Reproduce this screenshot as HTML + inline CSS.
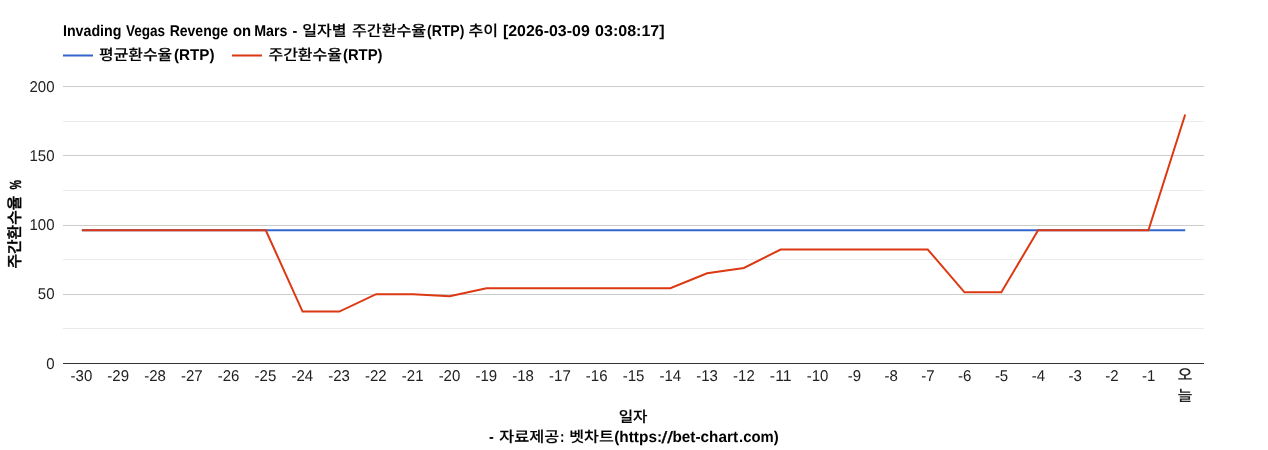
<!DOCTYPE html>
<html lang="ko"><head><meta charset="utf-8"><title>Invading Vegas Revenge on Mars - RTP</title>
<style>
html,body{margin:0;padding:0;background:#fff;}
body{width:1268px;height:450px;overflow:hidden;}
svg{display:block;text-rendering:geometricPrecision;}
text{font-family:"Liberation Sans","Noto Sans CJK KR","NanumGothic",sans-serif;fill:#000;}
.b{font-family:"Liberation Sans","Noto Sans CJK KR",sans-serif;font-weight:bold;}
.k{font-family:"Liberation Sans","Noto Sans CJK KR","NanumGothic",sans-serif;font-weight:500;stroke:#000;stroke-width:0.12px;}
.r{font-family:"Liberation Sans",sans-serif;font-weight:normal;}
.ax{font-size:15.6px;fill:#222;}
</style></head><body>
<svg width="1268" height="450" viewBox="0 0 1268 450">
<rect x="0" y="0" width="1268" height="450" fill="#ffffff"/>

<rect x="63" y="328" width="1141" height="1" fill="#ebebeb"/>
<rect x="63" y="259" width="1141" height="1" fill="#ebebeb"/>
<rect x="63" y="190" width="1141" height="1" fill="#ebebeb"/>
<rect x="63" y="121" width="1141" height="1" fill="#ebebeb"/>
<rect x="63" y="294" width="1141" height="1" fill="#cccccc"/>
<rect x="63" y="225" width="1141" height="1" fill="#cccccc"/>
<rect x="63" y="155" width="1141" height="1" fill="#cccccc"/>
<rect x="63" y="86" width="1141" height="1" fill="#cccccc"/>
<rect x="63" y="363" width="1141" height="1" fill="#333333"/>
<path d="M81.90,230.24L1185.21,230.24" stroke="#3366cc" stroke-width="2" fill="none"/>
<path d="M81.90,230.24L118.68,230.24L155.45,230.24L192.23,230.24L229.01,230.24L265.78,230.24L302.56,311.54L339.34,311.54L376.12,294.22L412.89,294.22L449.67,296.16L486.45,288.27L523.22,288.27L560.00,288.27L596.78,288.27L633.55,288.27L670.33,288.27L707.11,273.31L743.89,267.91L780.66,249.49L817.44,249.49L854.22,249.49L890.99,249.49L927.77,249.49L964.55,292.28L1001.33,292.28L1038.10,230.24L1074.88,230.24L1111.66,230.24L1148.43,230.24L1185.21,114.45" stroke="#dc3912" stroke-width="2" fill="none"/>
<text class="ax" x="54.5" y="368.70" text-anchor="end" textLength="8.34" lengthAdjust="spacingAndGlyphs">0</text>
<text class="ax" x="54.5" y="299.45" text-anchor="end" textLength="16.68" lengthAdjust="spacingAndGlyphs">50</text>
<text class="ax" x="54.5" y="230.20" text-anchor="end" textLength="25.02" lengthAdjust="spacingAndGlyphs">100</text>
<text class="ax" x="54.5" y="160.95" text-anchor="end" textLength="25.02" lengthAdjust="spacingAndGlyphs">150</text>
<text class="ax" x="54.5" y="91.70" text-anchor="end" textLength="25.02" lengthAdjust="spacingAndGlyphs">200</text>
<text class="ax" x="81.40" y="381" text-anchor="middle" textLength="21.68" lengthAdjust="spacingAndGlyphs">-30</text>
<text class="ax" x="118.21" y="381" text-anchor="middle" textLength="21.68" lengthAdjust="spacingAndGlyphs">-29</text>
<text class="ax" x="155.02" y="381" text-anchor="middle" textLength="21.68" lengthAdjust="spacingAndGlyphs">-28</text>
<text class="ax" x="191.82" y="381" text-anchor="middle" textLength="21.68" lengthAdjust="spacingAndGlyphs">-27</text>
<text class="ax" x="228.63" y="381" text-anchor="middle" textLength="21.68" lengthAdjust="spacingAndGlyphs">-26</text>
<text class="ax" x="265.44" y="381" text-anchor="middle" textLength="21.68" lengthAdjust="spacingAndGlyphs">-25</text>
<text class="ax" x="302.24" y="381" text-anchor="middle" textLength="21.68" lengthAdjust="spacingAndGlyphs">-24</text>
<text class="ax" x="339.05" y="381" text-anchor="middle" textLength="21.68" lengthAdjust="spacingAndGlyphs">-23</text>
<text class="ax" x="375.85" y="381" text-anchor="middle" textLength="21.68" lengthAdjust="spacingAndGlyphs">-22</text>
<text class="ax" x="412.66" y="381" text-anchor="middle" textLength="21.68" lengthAdjust="spacingAndGlyphs">-21</text>
<text class="ax" x="449.47" y="381" text-anchor="middle" textLength="21.68" lengthAdjust="spacingAndGlyphs">-20</text>
<text class="ax" x="486.27" y="381" text-anchor="middle" textLength="21.68" lengthAdjust="spacingAndGlyphs">-19</text>
<text class="ax" x="523.08" y="381" text-anchor="middle" textLength="21.68" lengthAdjust="spacingAndGlyphs">-18</text>
<text class="ax" x="559.89" y="381" text-anchor="middle" textLength="21.68" lengthAdjust="spacingAndGlyphs">-17</text>
<text class="ax" x="596.69" y="381" text-anchor="middle" textLength="21.68" lengthAdjust="spacingAndGlyphs">-16</text>
<text class="ax" x="633.50" y="381" text-anchor="middle" textLength="21.68" lengthAdjust="spacingAndGlyphs">-15</text>
<text class="ax" x="670.31" y="381" text-anchor="middle" textLength="21.68" lengthAdjust="spacingAndGlyphs">-14</text>
<text class="ax" x="707.11" y="381" text-anchor="middle" textLength="21.68" lengthAdjust="spacingAndGlyphs">-13</text>
<text class="ax" x="743.92" y="381" text-anchor="middle" textLength="21.68" lengthAdjust="spacingAndGlyphs">-12</text>
<text class="ax" x="780.73" y="381" text-anchor="middle" textLength="21.68" lengthAdjust="spacingAndGlyphs">-11</text>
<text class="ax" x="817.53" y="381" text-anchor="middle" textLength="21.68" lengthAdjust="spacingAndGlyphs">-10</text>
<text class="ax" x="854.34" y="381" text-anchor="middle" textLength="13.34" lengthAdjust="spacingAndGlyphs">-9</text>
<text class="ax" x="891.15" y="381" text-anchor="middle" textLength="13.34" lengthAdjust="spacingAndGlyphs">-8</text>
<text class="ax" x="927.95" y="381" text-anchor="middle" textLength="13.34" lengthAdjust="spacingAndGlyphs">-7</text>
<text class="ax" x="964.76" y="381" text-anchor="middle" textLength="13.34" lengthAdjust="spacingAndGlyphs">-6</text>
<text class="ax" x="1001.56" y="381" text-anchor="middle" textLength="13.34" lengthAdjust="spacingAndGlyphs">-5</text>
<text class="ax" x="1038.37" y="381" text-anchor="middle" textLength="13.34" lengthAdjust="spacingAndGlyphs">-4</text>
<text class="ax" x="1075.18" y="381" text-anchor="middle" textLength="13.34" lengthAdjust="spacingAndGlyphs">-3</text>
<text class="ax" x="1111.98" y="381" text-anchor="middle" textLength="13.34" lengthAdjust="spacingAndGlyphs">-2</text>
<text class="ax" x="1148.79" y="381" text-anchor="middle" textLength="13.34" lengthAdjust="spacingAndGlyphs">-1</text>
<text class="ax" text-anchor="middle" font-weight="500"><tspan x="1185.00" y="380" font-size="15" textLength="15" lengthAdjust="spacingAndGlyphs">오</tspan><tspan x="1185.00" y="401" font-size="15" textLength="15" lengthAdjust="spacingAndGlyphs">늘</tspan></text>
<rect x="63" y="54.5" width="30" height="2" fill="#3366cc"/>
<rect x="232" y="54.5" width="30" height="2" fill="#dc3912"/>
<text id="title"><tspan id="t1" class="b" font-size="15.6" x="62.93" y="36.00" textLength="58.56" lengthAdjust="spacingAndGlyphs">Invading</tspan> <tspan id="t2" class="b" font-size="15.6" x="125.93" y="36.00" textLength="39.26" lengthAdjust="spacingAndGlyphs">Vegas</tspan> <tspan id="t3" class="b" font-size="15.6" x="169.63" y="36.00" textLength="58.46" lengthAdjust="spacingAndGlyphs">Revenge</tspan> <tspan id="t4" class="b" font-size="15.6" x="233.00" y="36.00" textLength="18.16" lengthAdjust="spacingAndGlyphs">on</tspan> <tspan id="t5" class="b" font-size="15.6" x="254.15" y="36.00" textLength="33.21" lengthAdjust="spacingAndGlyphs">Mars</tspan> <tspan id="t6" class="b" font-size="15.6" x="292.50" y="36.00" textLength="4.83" lengthAdjust="spacingAndGlyphs">-</tspan> <tspan id="t7" class="k" font-size="15" x="302.26" y="35.65" textLength="44.31" lengthAdjust="spacingAndGlyphs">일자별</tspan> <tspan id="t8" class="k" font-size="15" x="352.06" y="35.65" textLength="74.13" lengthAdjust="spacingAndGlyphs">주간환수율</tspan><tspan id="t9" class="b" font-size="15.6" x="427.03" y="36.00" textLength="37.34" lengthAdjust="spacingAndGlyphs">(RTP)</tspan> <tspan id="t10" class="k" font-size="15" x="468.45" y="35.65" textLength="29.53" lengthAdjust="spacingAndGlyphs">추이</tspan> <tspan id="t11" class="b" font-size="15.6" x="502.95" y="36.00" textLength="86.81" lengthAdjust="spacingAndGlyphs">[2026-03-09</tspan> <tspan id="t12" class="b" font-size="15.6" x="595.09" y="36.00" textLength="69.57" lengthAdjust="spacingAndGlyphs">03:08:17]</tspan></text>
<text id="leg1"><tspan id="l1" class="k" font-size="15" x="99.10" y="59.65" textLength="73.15" lengthAdjust="spacingAndGlyphs">평균환수율</tspan><tspan id="l2" class="b" font-size="15.6" x="174.00" y="60.00" textLength="40.50" lengthAdjust="spacingAndGlyphs">(RTP)</tspan></text>
<text id="leg2"><tspan id="l3" class="k" font-size="15" x="268.43" y="59.65" textLength="73.57" lengthAdjust="spacingAndGlyphs">주간환수율</tspan><tspan id="l4" class="b" font-size="15.6" x="343.00" y="60.00" textLength="39.46" lengthAdjust="spacingAndGlyphs">(RTP)</tspan></text>
<text id="xt"><tspan id="x1" class="k" font-size="15" x="618.65" y="421.65" textLength="28.85" lengthAdjust="spacingAndGlyphs">일자</tspan></text>
<text id="foot"><tspan id="f1" class="b" font-size="15.6" x="488.88" y="442.00" textLength="4.80" lengthAdjust="spacingAndGlyphs">-</tspan> <tspan id="f2" class="k" font-size="15" x="499.19" y="441.65" textLength="60.19" lengthAdjust="spacingAndGlyphs">자료제공</tspan><tspan id="f2b" class="b" font-size="15.6" x="560.00" y="442.00" textLength="4.42" lengthAdjust="spacingAndGlyphs">:</tspan> <tspan id="f3" class="k" font-size="15" x="569.29" y="441.65" textLength="44.50" lengthAdjust="spacingAndGlyphs">벳차트</tspan><tspan id="f4" class="b" font-size="15.6" x="614.15" y="442.00" textLength="47.97" lengthAdjust="spacingAndGlyphs">(https:</tspan><tspan id="f5" class="r" style="stroke:#000;stroke-width:0.3px" font-size="16.5" x="661.55" y="443.20" textLength="11.35" lengthAdjust="spacingAndGlyphs">//</tspan><tspan id="f6" class="b" font-size="15.6" x="672.50" y="442.00" textLength="65.50" lengthAdjust="spacingAndGlyphs">bet-chart</tspan><tspan id="f7" class="b" font-size="15.6" x="739.01" y="442.00" textLength="39.60" lengthAdjust="spacingAndGlyphs">.com)</tspan></text>
<text id="yt" transform="translate(20.0 225) rotate(-90)"><tspan id="y1" class="k" style="stroke-width:0.4px" font-size="15.3" x="-43.50" y="0.00" textLength="72.75" lengthAdjust="spacingAndGlyphs">주간환수율</tspan> <tspan id="y2" class="b" style="stroke:#000;stroke-width:0.35px" font-size="16" x="35.57" y="0.50" textLength="9.43" lengthAdjust="spacingAndGlyphs">%</tspan></text>
</svg></body></html>
